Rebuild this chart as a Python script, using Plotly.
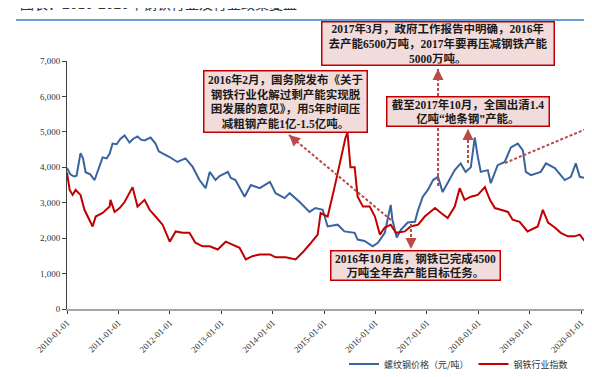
import plotly.graph_objects as go

# ---------------- data ----------------
rebar_dates = [
    "2010-01-01", "2010-01-25", "2010-02-20", "2010-03-10", "2010-04-07", "2010-04-25", "2010-05-13",
    "2010-06-15", "2010-07-16", "2010-08-10", "2010-09-11", "2010-10-10", "2010-10-31", "2010-11-21",
    "2010-12-20", "2011-01-15", "2011-02-14", "2011-03-21", "2011-04-15", "2011-05-17", "2011-06-10",
    "2011-07-06", "2011-08-18", "2011-09-22", "2011-10-15", "2011-11-11", "2011-12-31", "2012-02-24",
    "2012-04-22", "2012-06-12", "2012-07-30", "2012-09-12", "2012-10-11", "2012-11-21", "2012-12-20",
    "2013-02-17", "2013-03-10", "2013-04-12", "2013-05-15", "2013-06-16", "2013-07-30", "2013-10-01",
    "2013-12-13", "2014-01-22", "2014-03-27", "2014-05-02", "2014-07-12", "2014-09-20", "2014-11-01",
    "2014-12-23", "2015-01-27", "2015-04-08", "2015-05-26", "2015-08-07", "2015-08-28", "2015-10-16",
    "2015-12-13", "2016-01-19", "2016-03-08", "2016-04-19", "2016-05-01", "2016-06-01", "2016-07-01",
    "2016-08-18", "2016-10-08", "2016-10-31", "2016-12-03", "2017-01-08", "2017-02-14", "2017-03-21",
    "2017-04-23", "2017-05-29", "2017-07-18", "2017-08-29", "2017-10-03", "2017-11-09", "2017-12-07",
    "2017-12-29", "2018-01-19", "2018-03-10", "2018-03-31", "2018-05-19", "2018-07-08", "2018-08-21",
    "2018-10-09", "2018-11-14", "2018-12-05", "2019-01-10", "2019-03-21", "2019-04-27", "2019-06-29",
    "2019-09-08", "2019-10-21", "2019-11-25", "2019-12-23", "2020-01-29", "2020-02-19", "2020-04-07",
    "2020-05-14",
]
rebar_price = [
    3980, 3800, 3740, 3760, 4400, 4250, 3860,
    3800, 3640, 3900, 4280, 4250, 4390, 4670,
    4650, 4800, 4900, 4700, 4800, 4870, 4780,
    4760, 4840, 4670, 4450, 4390, 4290, 4150,
    4250, 4010, 3640, 3410, 3870, 3640, 3750,
    3870, 3700, 3640, 3400, 3170, 3500, 3410,
    3590, 3270, 3130, 3270, 3020, 2740, 2850,
    2800, 2330, 2380, 2190, 2150, 1960, 1920,
    1770, 1870, 2150, 2940, 2520, 2020, 2240,
    2440, 2460, 2800, 3170, 3360, 3640, 3730,
    3300, 3550, 3920, 4110, 3870, 4000, 4840,
    4290, 3870, 3920, 3550, 4060, 4150, 4560,
    4670, 4480, 3870, 3780, 3870, 4110, 3980,
    3640, 3730, 4110, 3730, 3700, 3410, 3440,
    3500,
]

index_dates = [
    "2010-01-01", "2010-01-20", "2010-02-10", "2010-03-03", "2010-04-07", "2010-05-05", "2010-07-02",
    "2010-07-24", "2010-09-11", "2010-10-31", "2010-11-06", "2010-12-05", "2011-01-10", "2011-02-14",
    "2011-04-12", "2011-05-17", "2011-07-06", "2011-08-11", "2011-09-22", "2011-11-11", "2012-01-01",
    "2012-02-12", "2012-04-01", "2012-05-20", "2012-07-01", "2012-08-21", "2012-10-11", "2012-12-07",
    "2013-02-02", "2013-03-21", "2013-05-11", "2013-06-24", "2013-08-10", "2013-10-01", "2013-12-13",
    "2014-01-22", "2014-04-04", "2014-06-13", "2014-08-03", "2014-09-20", "2014-11-17", "2014-12-08",
    "2015-01-27", "2015-03-17", "2015-04-30", "2015-06-03", "2015-06-17", "2015-07-08", "2015-08-07",
    "2015-08-28", "2015-10-05", "2015-11-22", "2015-12-29", "2016-02-02", "2016-03-08", "2016-04-19",
    "2016-05-26", "2016-07-28", "2016-09-08", "2016-10-31", "2016-12-17", "2017-02-28", "2017-04-12",
    "2017-05-29", "2017-07-18", "2017-08-22", "2017-09-26", "2017-11-09", "2017-12-29", "2018-02-17",
    "2018-03-25", "2018-04-29", "2018-06-10", "2018-07-31", "2018-09-02", "2018-10-22", "2018-12-17",
    "2019-02-28", "2019-04-05", "2019-05-12", "2019-06-29", "2019-08-10", "2019-09-30", "2019-11-16",
    "2019-12-23", "2020-02-05", "2020-04-07", "2020-05-14",
]
steel_index = [
    3850, 3360, 3220, 3360, 3220, 2800, 2330,
    2610, 2710, 2890, 3080, 2740, 2850, 3020,
    3440, 2890, 3080, 2800, 2610, 2380, 1900,
    2190, 2150, 2150, 1870, 1770, 1770, 1680,
    1900, 1820, 1730, 1400, 1490, 1540, 1540,
    1460, 1460, 1400, 1600, 1820, 2100, 2710,
    2610, 3440, 4200, 4840, 4980, 4000, 4000,
    3170, 2890, 2890, 2610, 2100, 2300, 2380,
    2150, 2190, 2330, 2380, 2610, 2850, 2710,
    2570, 2890, 3410, 3080, 3170, 3220, 3440,
    3080, 2850, 2800, 2740, 2520, 2460, 2190,
    2330, 2800, 2440, 2300, 2150, 2050, 2050,
    2100, 1870, 1900, 1900,
]

series_names = ["螺纹钢价格（元/吨）", "钢铁行业指数"]
tick_years = list(range(2010, 2021))
tick_labels = [f"{y}-01-01" for y in tick_years]
title_text = "图表：2010-2020年钢铁行业及行业政策复盘"

notes = [
    "2016年2月，国务院发布《关于<br>钢铁行业化解过剩产能实现脱<br>困发展的意见》，用5年时间压<br>减粗钢产能1亿-1.5亿吨。",
    "2017年3月，政府工作报告中明确，2016年<br>去产能6500万吨，2017年要再压减钢铁产能<br>5000万吨。",
    "截至2017年10月，全国出清1.4<br>亿吨“地条钢”产能。",
    "2016年10月底，钢铁已完成4500<br>万吨全年去产能目标任务。",
    "2019年4月，五部门联合发布《关于推进<br>实施钢铁行业超低排放的意见》。",
]

# ---------------- layout helpers ----------------
W, H = 592, 377
ML, MR, MT, MB = 59, 0, 53, 76
PW = W - ML - MR
PH = H - MT - MB


def px(x):
    return (x - ML) / PW


def py(y):
    return (MT + PH - y) / PH


fig = go.Figure()
fig.add_trace(go.Scatter(x=rebar_dates, y=rebar_price, name=series_names[0], mode="lines",
                         line=dict(color="#3a64a0", width=2)))
fig.add_trace(go.Scatter(x=index_dates, y=steel_index, name=series_names[1], mode="lines",
                         line=dict(color="#c00000", width=2)))

note_font = dict(family="Liberation Serif, Noto Sans CJK SC", size=11.5, color="#1a1a1a", weight="bold")
box_style = dict(bgcolor="#f2dcdb", bordercolor="#c00000", borderwidth=1.5, borderpad=1)

# boxes: (cx, cy, w, h) in pixels
boxes = [(277.5, 93.5, 165, 63), (430, 35.5, 234, 45), (460, 103.5, 164, 31), (407.5, 257.5, 171, 31)]
annotations = []
for text, (cx, cy, w, h) in zip(notes[:4], boxes):
    annotations.append(dict(xref="paper", yref="paper", x=px(cx), y=py(cy), text=text,
                            showarrow=False, font=note_font, align="center",
                            width=w - 5, height=h - 5, xanchor="center", yanchor="middle", **box_style))
# right-edge, cut-off box
annotations.append(dict(xref="paper", yref="paper", x=px(585), y=py(60.5), text=notes[4],
                        showarrow=False, font=note_font, align="left", width=240, height=30,
                        xanchor="left", yanchor="middle", **box_style))

arrow_col = "#b94a48"
shapes = []
# dashed arrow lines (tail -> head) in pixels
arrows = [((383, 212), (281, 127)), ((430, 178), (430, 61)), ((460, 155), (460, 121)),
          ((403, 216), (403, 241)), ((497, 155), (640, 95))]
for (x0, y0), (x1, y1) in arrows:
    shapes.append(dict(type="line", xref="paper", yref="paper", x0=px(x0), y0=py(y0),
                       x1=px(x1), y1=py(y1), line=dict(color=arrow_col, width=2, dash="3px,2px")))
heads = [((281, 127), (9, 8)), ((430, 61), (0, 11)), ((460, 121), (0, 11)), ((403, 241), (0, -11))]
for (hx, hy), (ax, ay) in heads:
    annotations.append(dict(xref="paper", yref="paper", x=px(hx), y=py(hy), ax=ax, ay=ay,
                            text="", showarrow=True, arrowhead=2, arrowsize=1.1, arrowwidth=2,
                            arrowcolor=arrow_col, standoff=0, startstandoff=0))

# title (cropped at top) and rule
annotations.append(dict(xref="paper", yref="paper", x=px(10), y=py(-5), text=title_text,
                        showarrow=False, xanchor="left", yanchor="middle",
                        font=dict(family="Noto Sans CJK SC", size=14, color="#333333")))
shapes.append(dict(type="line", xref="paper", yref="paper", x0=px(8), x1=1.0, y0=py(12), y1=py(12),
                   line=dict(color="#6b9fd4", width=2)))

fig.update_layout(
    width=W, height=H,
    margin=dict(l=ML, r=MR, t=MT, b=MB, autoexpand=False),
    paper_bgcolor="white", plot_bgcolor="white",
    showlegend=True,
    legend=dict(orientation="h", x=px(336), y=py(356), xanchor="left", yanchor="middle",
                font=dict(family="Noto Sans CJK SC", size=9, color="#333333"),
                bgcolor="rgba(0,0,0,0)"),
    annotations=annotations,
    shapes=shapes,
)
fig.update_xaxes(type="date", range=["2010-01-01", "2020-05-15"],
                 tickvals=[f"{y}-01-01" for y in tick_years], ticktext=tick_labels,
                 tickangle=-45, ticks="outside", ticklen=3, tickcolor="#333333",
                 showline=True, linecolor="#a6a6a6", linewidth=2, showgrid=False, zeroline=False,
                 tickfont=dict(family="Liberation Serif", size=9, color="#333333"))
fig.update_yaxes(range=[0, 7000], dtick=1000, tickformat=",", ticks="outside", ticklen=4,
                 tickcolor="#404040", showline=True, linecolor="#404040", linewidth=1,
                 showgrid=False, zeroline=False,
                 tickfont=dict(family="Liberation Serif", size=9, color="#333333"))

fig.write_html("out.html")
